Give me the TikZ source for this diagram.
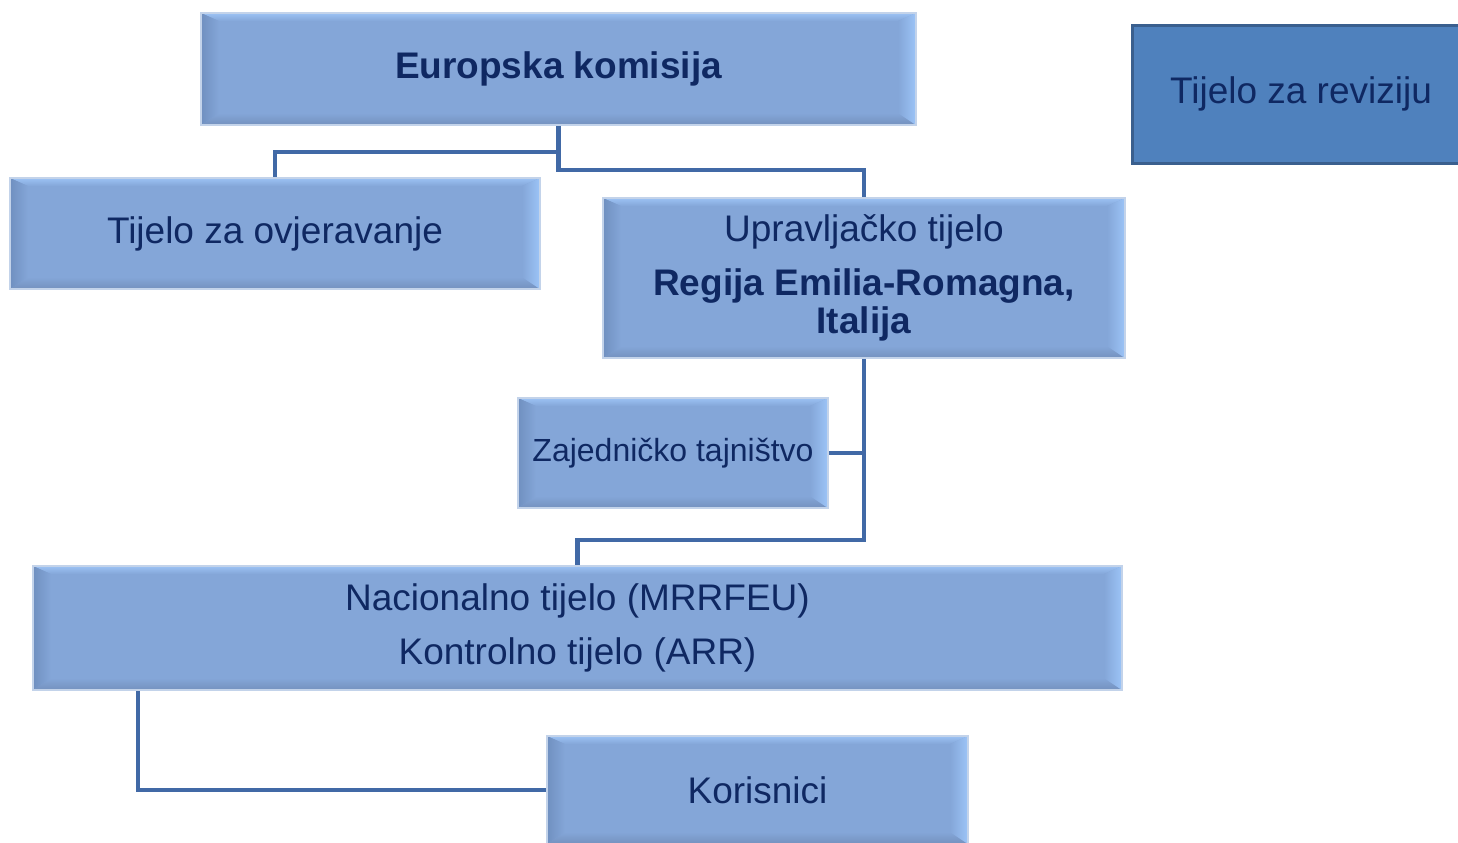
\documentclass[tikz,border=0pt]{standalone}
\usepackage{fontspec}
\setmainfont{Liberation Sans}
\usetikzlibrary{calc}
\definecolor{face}{HTML}{84A6D8}
\definecolor{btop}{HTML}{9CC2F4}
\definecolor{bleft}{HTML}{7090C0}
\definecolor{bright}{HTML}{9CC4F7}
\definecolor{bbot}{HTML}{7491BE}
\definecolor{edge}{HTML}{C3D3EA}
\definecolor{ink}{HTML}{0F2862}
\definecolor{conncol}{HTML}{4169A6}
\definecolor{audfill}{HTML}{4F81BD}
\definecolor{auddraw}{HTML}{3A5F8E}
\tikzset{
  bbox/.style={fill=face, draw=edge, line width=1pt, inner sep=0pt, align=center,
    text=ink, font=\fontsize{18.5}{22}\selectfont,
    path picture={
      \coordinate (pNW) at (path picture bounding box.north west);
      \coordinate (pNE) at (path picture bounding box.north east);
      \coordinate (pSW) at (path picture bounding box.south west);
      \coordinate (pSE) at (path picture bounding box.south east);
      \shade[top color=btop, bottom color=face] (pNW) -- (pNE) -- ($(pNE)+(-9pt,-4pt)$) -- ($(pNW)+(9pt,-4pt)$) -- cycle;
      \shade[top color=face, bottom color=bbot] (pSW) -- (pSE) -- ($(pSE)+(-9pt,6pt)$) -- ($(pSW)+(9pt,6pt)$) -- cycle;
      \shade[left color=bleft, right color=face] (pNW) -- ($(pNW)+(9pt,-4pt)$) -- ($(pSW)+(9pt,6pt)$) -- (pSW) -- cycle;
      \shade[left color=face, right color=bright] (pNE) -- ($(pNE)+(-9pt,-4pt)$) -- ($(pSE)+(-9pt,6pt)$) -- (pSE) -- cycle;
    }},
  audbox/.style={fill=audfill, draw=auddraw, line width=1.5pt, inner sep=0pt,
    text=ink, font=\fontsize{18.5}{22}\selectfont},
  conn/.style={draw=conncol, line width=2.3pt}
}
\begin{document}
\begin{tikzpicture}[x=0.5pt,y=-0.5pt]
\useasboundingbox (0,0) rectangle (1458,842);
\node[bbox, minimum width=357.5pt, minimum height=56pt, font=\fontsize{18.5}{22}\selectfont\bfseries] (ek) at (558.5,69) {Europska komisija};
\node[bbox, minimum width=265pt, minimum height=55.5pt] (tzo) at (275,233.5) {Tijelo za ovjeravanje};
\node[bbox, minimum width=261pt, minimum height=80pt] (ut) at (864,278) {Upravljačko tijelo\\[5pt]\textbf{Regija Emilia-Romagna,}\\[-3pt]\textbf{Italija}};
\node[bbox, minimum width=155pt, minimum height=55pt, font=\fontsize{16}{19}\selectfont] (zt) at (673,453) {Zajedničko tajništvo};
\node[bbox, minimum width=544.5pt, minimum height=62pt] (nt) at (577.5,628) {Nacionalno tijelo (MRRFEU)\\[5pt]Kontrolno tijelo (ARR)};
\node[bbox, minimum width=210.5pt, minimum height=54pt] (kor) at (757.5,790) {Korisnici};
\node[audbox, minimum width=169pt, minimum height=69pt] (tzr) at (1301,94) {Tijelo za reviziju};
\draw[conn] (ek.south) -- ++(0,26) -| (tzo.north);
\draw[conn] (ek.south) -- ++(0,44) -| (ut.north);
\draw[conn] (ut.south) -- ++(0,181) -| (nt.north);
\draw[conn] (zt.east) -- (zt.east -| ut.south);
\coordinate (ntl) at ($(nt.south west)+(106,0)$);
\draw[conn] (ntl) |- (kor.west);
\end{tikzpicture}
\end{document}
